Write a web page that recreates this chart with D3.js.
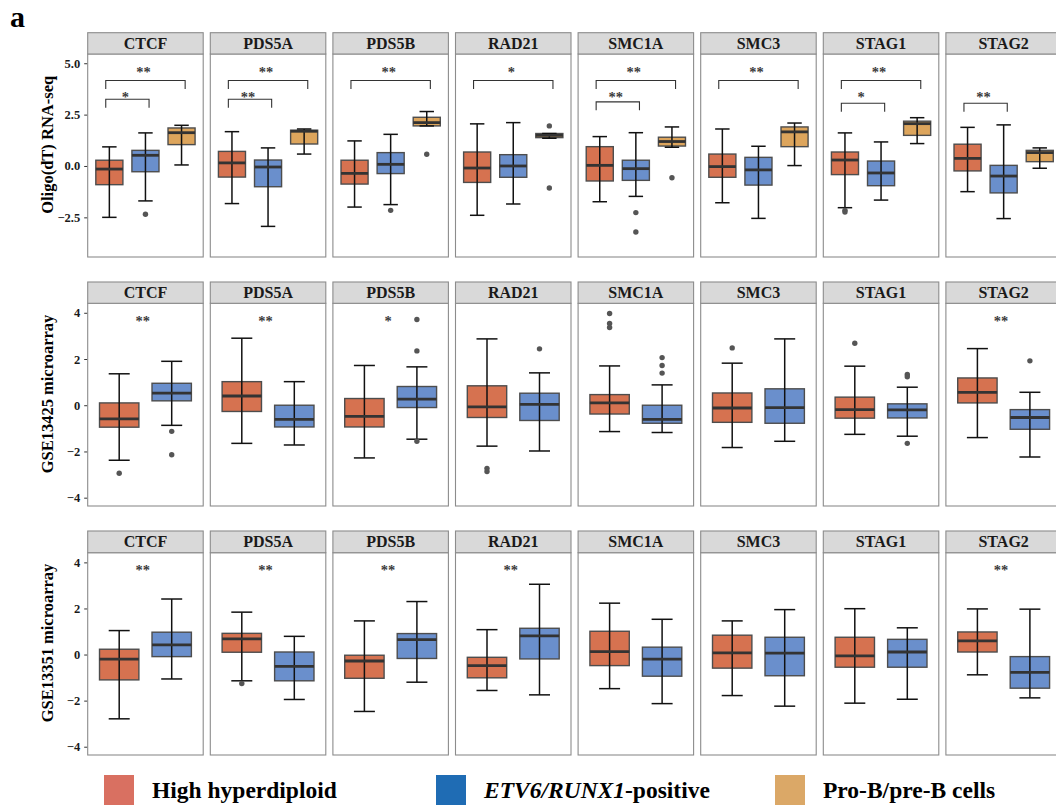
<!DOCTYPE html>
<html><head><meta charset="utf-8">
<script src="https://cdn.jsdelivr.net/npm/d3@7"></script>
<style>body{margin:0;background:#fff;} svg{display:block;}</style>
</head><body>
<svg id="chart" width="1056" height="806"></svg>
<script>
// ---------------- DATA ----------------
const genes = ["CTCF","PDS5A","PDS5B","RAD21","SMC1A","SMC3","STAG1","STAG2"];
const groups = ["High hyperdiploid","ETV6/RUNX1-positive","Pro-B/pre-B cells"];
const rowTitles = ["Oligo(dT) RNA-seq","GSE13425 microarray","GSE13351 microarray"];
const rnaTicks = [-2.5, 0, 2.5, 5];
const arrayTicks = [-4, -2, 0, 2, 4];

// box stats per gene: [whiskerLow, q1, median, q3, whiskerHigh]
const rnaseqHH = [[-2.50,-0.91,-0.15,0.28,0.93],[-1.83,-0.54,0.15,0.71,1.67],[-2.00,-0.88,-0.36,0.28,1.22],[-2.40,-0.80,-0.10,0.68,2.05],[-1.74,-0.73,0.03,0.94,1.43],[-1.79,-0.55,-0.03,0.58,1.80],[-2.03,-0.42,0.29,0.68,1.61],[-1.25,-0.24,0.37,1.06,1.88]];
const rnaseqER = [[-1.70,-0.28,0.52,0.76,1.61],[-2.94,-1.01,-0.05,0.29,0.88],[-1.88,-0.37,0.08,0.65,1.54],[-1.85,-0.55,0.00,0.55,2.11],[-1.48,-0.70,-0.13,0.28,1.62],[-2.55,-0.93,-0.19,0.42,0.96],[-1.66,-0.96,-0.34,0.24,1.17],[-2.56,-1.31,-0.49,0.03,2.00]];
const rnaseqPB = [[0.05,1.04,1.62,1.85,1.98],[0.58,1.07,1.69,1.74,1.80],[1.95,1.95,2.11,2.37,2.65],[1.35,1.38,1.49,1.58,1.58],[0.91,0.97,1.19,1.40,1.90],[0.02,0.94,1.66,1.90,2.09],[1.09,1.49,2.06,2.18,2.35],[-0.11,0.21,0.65,0.76,0.88]];
const rnaseqHHOut = [["STAG1",-2.16],["STAG1",-2.24]];
const rnaseqEROut = [["CTCF",-2.35],["PDS5B",-2.16],["SMC1A",-2.27],["SMC1A",-3.21]];
const rnaseqPBOut = [["PDS5B",0.57],["RAD21",1.95],["RAD21",-1.07],["SMC1A",-0.57]];

const gse13425HH = [[-2.38,-0.95,-0.59,0.10,1.36],[-1.65,-0.27,0.40,1.02,2.90],[-2.28,-0.94,-0.48,0.29,1.72],[-1.77,-0.53,-0.07,0.84,2.87],[-1.14,-0.38,0.10,0.46,1.70],[-1.83,-0.74,-0.12,0.53,1.82],[-1.26,-0.56,-0.19,0.35,1.69],[-1.40,0.10,0.56,1.18,2.45]];
const gse13425ER = [[-0.87,0.19,0.52,0.95,1.90],[-1.72,-0.94,-0.61,0.00,1.02],[-1.47,-0.10,0.26,0.81,1.66],[-1.98,-0.66,0.04,0.52,1.40],[-1.18,-0.78,-0.61,0.00,0.88],[-1.56,-0.78,-0.10,0.71,2.87],[-1.34,-0.55,-0.20,0.06,0.78],[-2.24,-1.04,-0.53,-0.19,0.56]];
const gse13425HHOut = [["CTCF",-2.94],["RAD21",-2.73],["RAD21",-2.87],["SMC1A",3.97],["SMC1A",3.54],["SMC1A",3.36],["SMC3",2.48],["STAG1",2.68]];
const gse13425EROut = [["CTCF",-1.13],["CTCF",-2.14],["PDS5B",3.71],["PDS5B",2.35],["PDS5B",-1.56],["RAD21",2.44],["SMC1A",2.06],["SMC1A",1.72],["SMC1A",1.39],["STAG1",1.33],["STAG1",1.23],["STAG1",-1.65],["STAG2",1.92]];

const gse13351HH = [[-2.79,-1.10,-0.20,0.23,1.04],[-1.14,0.10,0.68,0.92,1.84],[-2.47,-1.03,-0.28,-0.03,1.46],[-1.56,-1.01,-0.48,-0.12,1.08],[-1.48,-0.48,0.13,1.01,2.23],[-1.78,-0.59,0.07,0.84,1.46],[-2.11,-0.55,-0.06,0.75,1.99],[-0.88,0.11,0.59,0.98,1.98]];
const gse13351ER = [[-1.06,-0.09,0.42,0.97,2.41],[-1.95,-1.14,-0.51,0.11,0.79],[-1.20,-0.17,0.65,0.91,2.30],[-1.75,-0.19,0.81,1.14,3.05],[-2.13,-0.94,-0.20,0.32,1.53],[-2.24,-0.92,0.06,0.75,1.95],[-1.94,-0.55,0.11,0.66,1.16],[-1.88,-1.46,-0.77,-0.09,1.97]];
const gse13351HHOut = [["PDS5A",-1.26]];
const gse13351EROut = [];

// significance brackets (RNA-seq): [gene, group a, group b, label, bracket y, label y]
const rnaseqSig = [["CTCF",1,3,"**",4.16,4.69],["CTCF",1,2,"*",3.25,3.47],["PDS5A",1,3,"**",4.16,4.69],["PDS5A",1,2,"**",3.25,3.47],["PDS5B",1,3,"**",4.16,4.69],["RAD21",1,3,"*",4.16,4.69],["SMC1A",1,3,"**",4.16,4.69],["SMC1A",1,2,"**",3.12,3.47],["SMC3",1,3,"**",4.16,4.69],["STAG1",1,3,"**",4.16,4.69],["STAG1",1,2,"*",3.05,3.47],["STAG2",1,2,"**",3.05,3.47]];
// microarray significance labels: [gene, label, y]
const gse13425Sig = [["CTCF","**",3.72],["PDS5A","**",3.72],["PDS5B","*",3.72],["STAG2","**",3.72]];
const gse13351Sig = [["CTCF","**",3.76],["PDS5A","**",3.76],["PDS5B","**",3.76],["RAD21","**",3.76],["STAG2","**",3.76]];

// ---------------- STYLE ----------------
const boxFill = ["#D67250","#6A8FCC","#DDA55C"];
const legendFill = ["#D97061","#1F6CB4","#DBA867"];
const FONT = "'Liberation Serif','Times New Roman',serif";

const svg = d3.select("#chart");
svg.append("text").attr("x",10).attr("y",27).attr("font-family",FONT).attr("font-weight","bold")
  .attr("font-size",30).attr("fill","#000").text("a");

const panelX = d3.scaleBand().domain(genes).range([87.7, 87.7 + 8*122.6 - 7.1]).paddingInner(7.1/122.6).paddingOuter(0);
const pw = panelX.bandwidth();

const rows = [
  {title: rowTitles[0], stripTop: 32.7, top: 54, bottom: 257, domain: [-4.43, 5.45], ticks: rnaTicks, fmt: d3.format(".1f"),
   stats: [rnaseqHH, rnaseqER, rnaseqPB], outs: [rnaseqHHOut, rnaseqEROut, rnaseqPBOut]},
  {title: rowTitles[1], stripTop: 282, top: 303.3, bottom: 506, domain: [-4.36, 4.41], ticks: arrayTicks, fmt: d3.format("d"),
   stats: [gse13425HH, gse13425ER], outs: [gse13425HHOut, gse13425EROut], labels: gse13425Sig},
  {title: rowTitles[2], stripTop: 531, top: 552.7, bottom: 755, domain: [-4.36, 4.42], ticks: arrayTicks, fmt: d3.format("d"),
   stats: [gse13351HH, gse13351ER], outs: [gse13351HHOut, gse13351EROut], labels: gse13351Sig}
];

function sigText(g, xp, yp, label) {
  g.append("text").attr("x",xp).attr("y",yp).attr("text-anchor","middle")
    .attr("font-family",FONT).attr("font-weight","bold").attr("font-size",14.5).attr("fill","#3a3a3a").text(label);
}

rows.forEach((row, ri) => {
  const y = d3.scaleLinear().domain(row.domain).range([row.bottom, row.top]);
  const nG = row.stats.length;
  const x = d3.scaleLinear().domain([0.4, nG + 0.6]).range([0, pw]);
  const unit = x(2) - x(1);

  // y axis
  const ax = svg.append("g").attr("transform", `translate(${panelX(genes[0])},0)`)
    .call(d3.axisLeft(y).tickValues(row.ticks).tickFormat(row.fmt).tickSize(3.5).tickPadding(4));
  ax.attr("font-family",FONT).attr("font-weight","bold").attr("font-size",12);
  ax.select(".domain").remove();
  ax.selectAll(".tick line").attr("stroke","#333").attr("stroke-width",1);
  ax.selectAll(".tick text").style("font-family",FONT).style("font-weight","bold").style("font-size","12.5px").attr("fill","#1a1a1a");

  // row title
  svg.append("text").attr("transform",`translate(53,${(row.stripTop + row.bottom)/2}) rotate(-90)`)
    .attr("text-anchor","middle").attr("font-family",FONT).attr("font-weight","bold").attr("font-size",16.5)
    .attr("fill","#000").text(row.title);

  genes.forEach((gene, gi) => {
    const g = svg.append("g").attr("transform", `translate(${panelX(gene)},0)`);
    g.append("rect").attr("x",0).attr("y",row.top).attr("width",pw).attr("height",row.bottom-row.top)
      .attr("fill","#fff").attr("stroke","#8c8c8c").attr("stroke-width",1.1);
    g.append("rect").attr("x",0).attr("y",row.stripTop).attr("width",pw).attr("height",row.top-row.stripTop)
      .attr("fill","#D9D9D9").attr("stroke","#8c8c8c").attr("stroke-width",1.1);
    g.append("text").attr("x",pw/2).attr("y",(row.stripTop+row.top)/2 + 5.5).attr("text-anchor","middle")
      .attr("font-family",FONT).attr("font-weight","bold").attr("font-size",16).attr("fill","#1a1a1a").text(gene);

    row.stats.forEach((statArr, k) => {
      const s = statArr[gi];
      const cx = x(k+1);
      const bw = 0.75*unit, cw = 0.4*unit;
      g.append("rect").attr("x",cx-bw/2).attr("y",y(s[3])).attr("width",bw).attr("height",Math.max(0.5,y(s[1])-y(s[3])))
        .attr("fill",boxFill[k]).attr("stroke","#4d4d4d").attr("stroke-width",1.4);
      g.append("line").attr("x1",cx).attr("x2",cx).attr("y1",y(s[0])).attr("y2",y(s[4])).attr("stroke","#111").attr("stroke-width",1.5);
      [s[0], s[4]].forEach(v => g.append("line").attr("x1",cx-cw/2).attr("x2",cx+cw/2).attr("y1",y(v)).attr("y2",y(v))
        .attr("stroke","#111").attr("stroke-width",1.5));
      g.append("line").attr("x1",cx-bw/2).attr("x2",cx+bw/2).attr("y1",y(s[2])).attr("y2",y(s[2]))
        .attr("stroke","#333").attr("stroke-width",2.8);
      row.outs[k].filter(o => o[0] === gene).forEach(o => g.append("circle").attr("cx",cx).attr("cy",y(o[1])).attr("r",2.7).attr("fill","#555"));
    });

    if (ri === 0) {
      rnaseqSig.filter(a => a[0] === gene).forEach(a => {
        const x1 = x(a[1]) - 0.1*unit, x2 = x(a[2]) + 0.1*unit;
        const yb = y(a[4]), leg = 8.5;
        g.append("path").attr("d",`M${x1},${yb+leg}V${yb}H${x2}V${yb+leg}`).attr("fill","none").attr("stroke","#333").attr("stroke-width",1.1);
        sigText(g, (x(a[1])+x(a[2]))/2 - 2, y(a[5]) + 7, a[3]);
      });
    } else {
      row.labels.filter(a => a[0] === gene).forEach(a => sigText(g, x(1.45), y(a[2]) + 7, a[1]));
    }
  });
});

// legend
const legX = [104, 436, 775];
groups.forEach((grp, i) => {
  svg.append("rect").attr("x",legX[i]).attr("y",775).attr("width",30).attr("height",30).attr("fill",legendFill[i]);
  const t = svg.append("text").attr("x",legX[i]+48).attr("y",797.5).attr("font-family",FONT).attr("font-weight","bold")
    .attr("font-size",23.5).attr("fill","#000");
  if (grp.startsWith("ETV6/RUNX1")) {
    t.append("tspan").attr("font-style","italic").text("ETV6/RUNX1");
    t.append("tspan").text(grp.slice("ETV6/RUNX1".length));
  } else t.text(grp);
});
</script>
</body></html>
